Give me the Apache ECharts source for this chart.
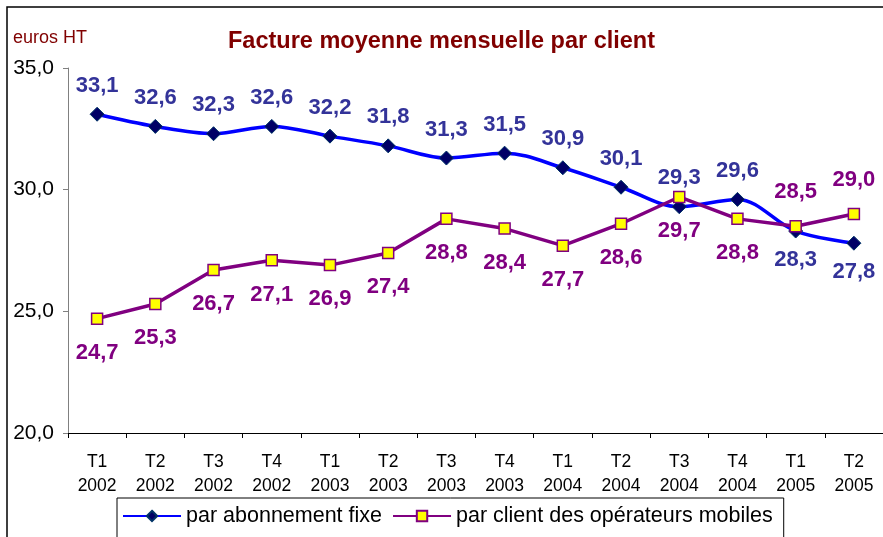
<!DOCTYPE html>
<html>
<head>
<meta charset="utf-8">
<script src="https://cdn.jsdelivr.net/npm/echarts@6/dist/echarts.min.js"></script>
<style>html,body{margin:0;padding:0;background:#fff}#c{width:883px;height:537px}</style>
</head>
<body>
<div id="c"></div>
<script>
const quarters = ["T1","T2","T3","T4","T1","T2","T3","T4","T1","T2","T3","T4","T1","T2"];
const years = ["2002","2002","2002","2002","2003","2003","2003","2003","2004","2004","2004","2004","2005","2005"];
const fixe = [33.1,32.6,32.3,32.6,32.2,31.8,31.3,31.5,30.9,30.1,29.3,29.6,28.3,27.8];
const mobiles = [24.7,25.3,26.7,27.1,26.9,27.4,28.8,28.4,27.7,28.6,29.7,28.8,28.5,29.0];
const seriesNames = ["par abonnement fixe","par client des opérateurs mobiles"];
const yTicks = [20,25,30,35];

const categories = quarters.map((q,i)=>q+"\n"+years[i]);
const FONT = "'Liberation Sans', Arial, sans-serif";
const fmt = v => v.toFixed(1).replace('.', ',');

const n = fixe.length;
const fixeData = fixe.map((v,i)=>({value:v, label:{position: i>=n-2 ? 'bottom' : 'top'}}));
const mobData = mobiles.map((v,i)=>({value:v, label:{position: i>=n-2 ? 'top' : 'bottom'}}));

const chart = echarts.init(document.getElementById('c'));
chart.setOption({
  animation:false,
  backgroundColor:'#fff',
  textStyle:{fontFamily:FONT},
  title:[
    {text:'Facture moyenne mensuelle par client', left:'center', top:25,
     textStyle:{fontFamily:FONT, fontSize:23.5, fontWeight:'bold', color:'#800000'}},
    {text:'euros HT', left:8, top:24,
     textStyle:{fontFamily:FONT, fontSize:18, fontWeight:'normal', color:'#800000'}}
  ],
  graphic:[{type:'rect', shape:{x:7,y:7,width:1000,height:1000},
    style:{fill:'none', stroke:'#000', lineWidth:1.5}, silent:true}],
  grid:{left:68, right:0, top:68, bottom:104, containLabel:false},
  legend:{
    left:117, top:498,
    borderColor:'#000', borderWidth:1, borderRadius:0,
    padding:[7,11,20,5], itemGap:10, itemWidth:58, itemHeight:13,
    textStyle:{fontFamily:FONT, fontSize:21.5, color:'#000'},
    data:seriesNames
  },
  xAxis:{
    type:'category', data:categories, boundaryGap:true,
    axisLine:{lineStyle:{color:'#000', width:1}},
    axisTick:{show:true, length:5, lineStyle:{color:'#000'}},
    axisLabel:{fontFamily:FONT, fontSize:17.5, color:'#000', lineHeight:24, margin:17, interval:0}
  },
  yAxis:{
    type:'value', min:yTicks[0], max:yTicks[yTicks.length-1], interval:5,
    axisLine:{show:true, lineStyle:{color:'#808080', width:1}},
    axisTick:{show:true, inside:false, length:5, lineStyle:{color:'#808080'}},
    splitLine:{show:false},
    axisLabel:{fontFamily:FONT, fontSize:21, color:'#000', margin:14, formatter:v=>fmt(v)}
  },
  series:[
    {name:seriesNames[0], type:'line', data:fixeData, smooth:0.35,
     lineStyle:{color:'#0000FF', width:3.5}, itemStyle:{color:'#000066', borderColor:'#003366', borderWidth:1},
     symbol:'diamond', symbolSize:14, z:3,
     label:{show:true, distance:10, fontFamily:FONT, fontSize:22, fontWeight:'bold', color:'#333399', formatter:p=>fmt(p.value)}},
    {name:seriesNames[1], type:'line', data:mobData, smooth:false,
     lineStyle:{color:'#800080', width:3.5}, itemStyle:{color:'#FFFF00', borderColor:'#800080', borderWidth:1.5},
     symbol:'rect', symbolSize:11, z:4,
     label:{show:true, distance:17, fontFamily:FONT, fontSize:22, fontWeight:'bold', color:'#800080', formatter:p=>fmt(p.value)}}
  ]
});
</script>
</body>
</html>
